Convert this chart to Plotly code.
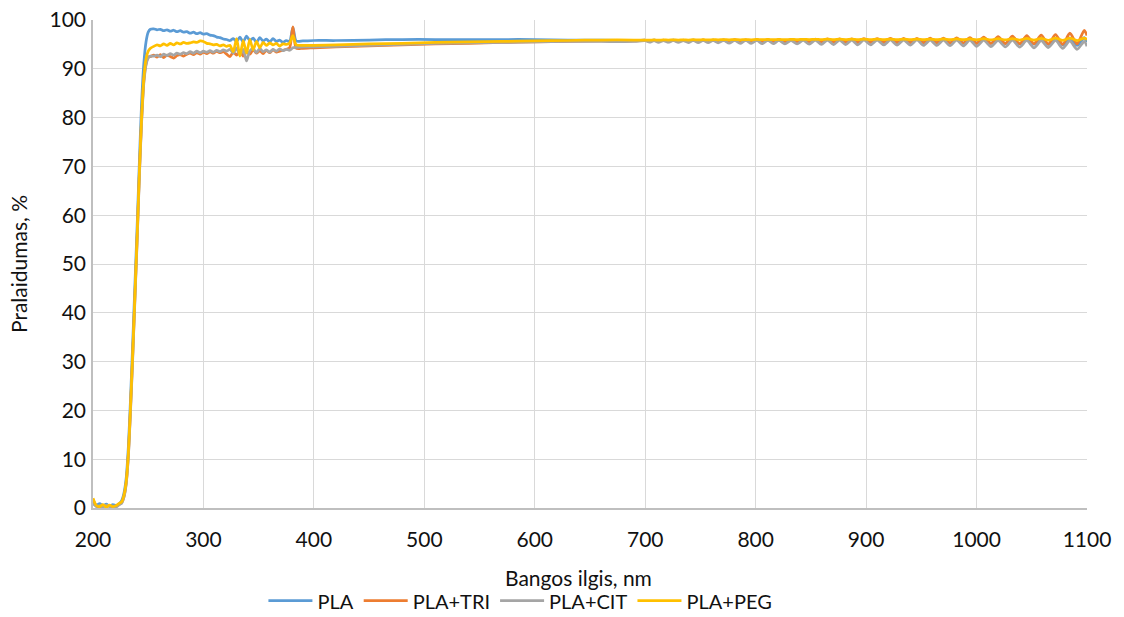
import plotly.graph_objects as go

# Wavelength grid (nm)
wavelength = [
    200, 203, 206, 209, 212, 215, 218, 221, 224,
    226, 228, 230, 232, 234, 236, 238, 240, 242, 244, 246, 248, 250, 252,
    255, 258, 261, 264, 267, 270, 273, 276, 279, 282, 285, 288, 291, 294, 297, 300,
    303, 306, 309, 312, 315, 318, 321, 324, 327, 330, 333, 336, 339, 342, 345, 348,
    351, 354, 357, 360, 363, 366, 369, 372, 375, 378, 381, 384,
    390, 400, 420, 450, 480, 510, 540, 570, 600, 630, 660, 690,
    700, 704, 708, 712, 716.5, 721, 725.5, 730, 734.5, 739,
    743.5, 748, 752.5, 757, 761.5, 766, 771, 776, 781, 786,
    791, 796, 801, 806, 811, 816, 821, 826.5, 832, 837.5,
    843, 848.5, 854, 859.5, 865, 870.5, 876, 881.5, 887, 892.5,
    898, 904, 910, 916, 922, 928, 934, 940, 946, 952,
    958, 964, 970, 976, 982, 988, 994, 1000, 1006.5, 1013,
    1019.5, 1026, 1032.5, 1039, 1045.5, 1052, 1058.5, 1065, 1071.5, 1078,
    1084.5, 1091, 1097.5, 1100,
]

pla = [
    1.2, 0.6, 0.9, 0.5, 0.8, 0.4, 0.7, 0.5, 0.9,
    1.5, 3.0, 6.0, 12.5, 22.5, 34, 46, 58, 71, 83, 91, 95.5, 97.5, 98.1,
    98.2, 98.0, 98.1, 97.8, 98.0, 97.7, 97.9, 97.6, 97.8, 97.5, 97.6, 97.3, 97.5, 97.2, 97.4, 97.1,
    97.2, 96.9, 96.8, 96.5, 96.4, 96.1, 96.0, 95.8, 96.2, 95.6, 96.5, 95.5, 96.7, 95.8, 96.3, 95.4,
    96.4, 95.7, 96.1, 95.5, 96.2, 95.6, 95.9, 95.4, 95.8, 95.6, 98.5, 95.7,
    95.7, 95.8, 95.8, 95.9, 96.0, 96.0, 96.0, 96.0, 96.0, 95.9, 95.9, 95.8,
    95.85, 95.8, 95.86, 95.78, 95.85, 95.78, 95.86, 95.76, 95.85, 95.76,
    95.86, 95.75, 95.85, 95.74, 95.86, 95.73, 95.88, 95.7, 95.88, 95.7,
    95.9, 95.68, 95.9, 95.66, 95.9, 95.66, 95.92, 95.64, 95.92, 95.62,
    95.93, 95.6, 95.94, 95.58, 95.95, 95.55, 95.96, 95.52, 95.98, 95.5,
    96.0, 95.48, 96.0, 95.45, 96.02, 95.42, 96.02, 95.4, 96.05, 95.38,
    96.05, 95.35, 96.08, 95.3, 96.1, 95.28, 96.1, 95.25, 96.15, 95.2,
    96.15, 95.15, 96.2, 95.1, 96.2, 95.05, 96.25, 95.0, 96.3, 94.9,
    96.3, 94.8, 96.4, 95.5,
]

pla_tri = [
    1.8, 0.4, 0.2, 0.6, 0.3, 0.5, 0.2, 0.4, 0.8,
    1.1, 2.3, 5.0, 10.8, 20.5, 31.5, 43.5, 55.5, 68.5, 79.5, 87.5, 91.0, 92.4, 92.5,
    92.8, 92.4, 92.9, 92.3, 92.8, 92.5, 92.2, 92.7, 92.9, 92.6, 93.0, 93.2, 92.9, 93.3, 93.0, 93.4,
    93.1, 93.5, 93.2, 93.6, 93.3, 93.5, 93.0, 92.5, 93.4, 92.8, 93.8, 92.6, 93.5, 93.0, 93.9, 93.2,
    93.7, 93.1, 93.8, 93.3, 93.9, 93.4, 93.6, 93.8, 94.0, 94.3, 98.6, 94.2,
    94.2, 94.3, 94.5, 94.7, 94.9, 95.1, 95.2, 95.4, 95.5, 95.6, 95.7, 95.7,
    95.85, 95.65, 95.88, 95.62, 95.86, 95.64, 95.9, 95.6, 95.88, 95.6,
    95.9, 95.58, 95.92, 95.58, 95.9, 95.55, 95.95, 95.55, 95.98, 95.5,
    95.95, 95.5, 96.0, 95.48, 96.0, 95.48, 96.02, 95.45, 96.05, 95.45,
    96.05, 95.42, 96.1, 95.42, 96.12, 95.4, 96.15, 95.4, 96.15, 95.38,
    96.2, 95.38, 96.2, 95.35, 96.22, 95.35, 96.25, 95.3, 96.25, 95.3,
    96.3, 95.3, 96.3, 95.25, 96.35, 95.25, 96.4, 95.2, 96.5, 95.2,
    96.6, 95.15, 96.7, 95.1, 96.8, 95.1, 96.9, 95.05, 97.0, 95.0,
    97.3, 95.1, 97.9, 96.8,
]

pla_cit = [
    0.9, 0.3, 0.5, 0.2, 0.6, 0.3, 0.4, 0.2, 0.7,
    1.0, 2.2, 4.8, 10.5, 20, 31, 43, 55, 68, 79, 87, 90.8, 92.2, 92.6,
    92.6, 92.8, 92.5, 93.0, 92.7, 93.1, 92.8, 93.2, 93.0, 93.3, 93.1, 93.5, 93.2, 93.6, 93.3, 93.6,
    93.4, 93.7, 93.4, 93.8, 93.5, 93.9, 93.6, 94.0, 93.2, 94.3, 92.8, 94.0, 91.6, 93.7, 94.1, 93.3,
    94.2, 93.5, 93.9, 93.4, 94.0, 93.6, 94.1, 93.7, 94.0, 93.8, 94.3, 94.4,
    94.5, 94.5, 94.6, 94.8, 95.0, 95.2, 95.3, 95.4, 95.5, 95.6, 95.6, 95.6,
    95.75, 95.45, 95.78, 95.42, 95.76, 95.44, 95.8, 95.4, 95.78, 95.38,
    95.8, 95.36, 95.82, 95.35, 95.8, 95.3, 95.82, 95.25, 95.8, 95.2,
    95.85, 95.2, 95.8, 95.15, 95.85, 95.15, 95.82, 95.1, 95.85, 95.1,
    95.85, 95.05, 95.88, 95.0, 95.9, 94.95, 95.88, 94.95, 95.9, 94.9,
    95.92, 94.9, 95.9, 94.88, 95.92, 94.85, 95.9, 94.85, 95.92, 94.8,
    95.9, 94.8, 95.88, 94.75, 95.9, 94.7, 95.88, 94.6, 95.85, 94.55,
    95.8, 94.5, 95.85, 94.45, 95.8, 94.3, 95.75, 94.35, 95.8, 94.2,
    95.7, 94.0, 95.6, 94.6,
]

pla_peg = [
    2.0, 0.5, 0.3, 0.7, 0.2, 0.6, 0.3, 0.5, 1.0,
    1.3, 2.6, 5.3, 11.2, 21, 32, 44, 56, 69, 80, 88, 92, 93.6, 94.2,
    94.6, 94.9, 94.7, 95.1, 94.8, 95.2, 94.9, 95.3, 95.1, 95.4, 95.2, 95.3, 95.5, 95.4, 95.7, 95.6,
    95.2, 95.1, 94.9, 95.0, 94.7, 94.9, 94.6, 94.8, 93.5, 96.2, 92.6, 95.8, 93.2, 96.0, 93.9, 95.6,
    94.3, 95.4, 94.8, 95.3, 94.9, 95.2, 94.7, 95.1, 95.0, 95.3, 96.8, 94.9,
    94.8, 94.8, 94.9, 95.1, 95.2, 95.4, 95.5, 95.6, 95.7, 95.8, 95.9, 95.9,
    95.9, 95.88, 95.92, 95.88, 95.92, 95.9, 95.94, 95.9, 95.95, 95.9,
    95.96, 95.92, 95.96, 95.92, 95.98, 95.93, 95.98, 95.94, 96.0, 95.94,
    96.0, 95.95, 96.02, 95.96, 96.02, 95.96, 96.03, 95.97, 96.04, 95.97,
    96.05, 95.98, 96.05, 95.98, 96.06, 95.98, 96.06, 96.0, 96.08, 96.0,
    96.08, 96.0, 96.08, 96.0, 96.1, 96.0, 96.1, 96.0, 96.1, 96.0,
    96.1, 95.98, 96.12, 95.98, 96.12, 95.96, 96.14, 95.95, 96.16, 95.94,
    96.18, 95.92, 96.2, 95.9, 96.22, 95.88, 96.25, 95.85, 96.28, 95.82,
    96.3, 95.8, 96.3, 96.0,
]

series_names = ["PLA", "PLA+TRI", "PLA+CIT", "PLA+PEG"]
series_values = [pla, pla_tri, pla_cit, pla_peg]
series_colors = ["#5B9BD5", "#ED7D31", "#A5A5A5", "#FFC000"]

x_ticks = [200, 300, 400, 500, 600, 700, 800, 900, 1000, 1100]
y_ticks = [0, 10, 20, 30, 40, 50, 60, 70, 80, 90, 100]
x_title = "Bangos ilgis, nm"
y_title = "Pralaidumas, %"

for v in series_values:
    assert len(v) == len(wavelength), (len(v), len(wavelength))

fig = go.Figure()
for name, vals, col in zip(series_names, series_values, series_colors):
    fig.add_trace(go.Scatter(
        x=wavelength, y=vals, mode="lines", name=name,
        line=dict(color=col, width=2.75, shape="spline", smoothing=0.7),
    ))

font_family = "Lato"
text_color = "#111111"

fig.update_layout(
    width=1124, height=617,
    margin=dict(l=93, r=37, t=20, b=109, autoexpand=False),
    paper_bgcolor="white", plot_bgcolor="white",
    font=dict(family=font_family, size=21, color=text_color),
    showlegend=True,
    legend=dict(
        orientation="h", x=0.43, xanchor="center", y=-0.19, yanchor="middle",
        font=dict(family=font_family, size=20, color=text_color),
        itemwidth=44, tracegroupgap=0,
    ),
    annotations=[dict(
        text=x_title, xref="paper", yref="paper", x=0.488, y=-0.143,
        xanchor="center", yanchor="middle", showarrow=False,
        font=dict(family=font_family, size=21, color=text_color),
    )],
)
fig.update_xaxes(
    range=[200, 1100], tickmode="array", tickvals=x_ticks,
    ticktext=[str(t) for t in x_ticks],
    showgrid=True, gridcolor="#D9D9D9", gridwidth=1.3,
    showline=True, linecolor="#BFBFBF", linewidth=1.5,
    zeroline=False, ticks="", ticklabelstandoff=12, automargin=False,
)
fig.update_yaxes(
    range=[0, 100], tickmode="array", tickvals=y_ticks,
    ticktext=[str(t) for t in y_ticks],
    showgrid=True, gridcolor="#D9D9D9", gridwidth=1.3,
    showline=True, linecolor="#BFBFBF", linewidth=1.5,
    zeroline=False, ticks="", ticklabelstandoff=1, automargin=False,
    title=dict(text=y_title, standoff=16,
               font=dict(family=font_family, size=21, color=text_color)),
)

fig.write_html("out.html", config={"displayModeBar": False})
